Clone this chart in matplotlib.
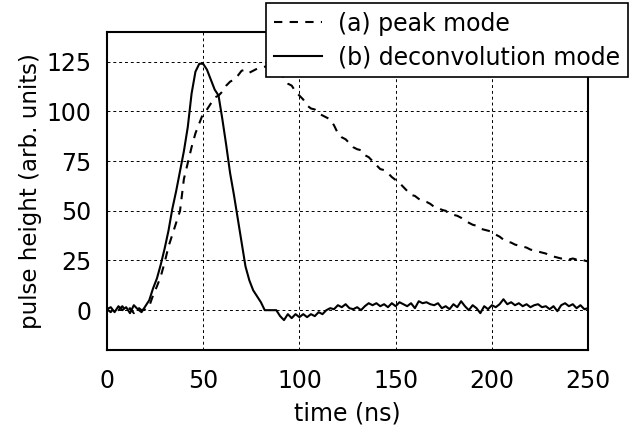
#!/usr/bin/env python3

import numpy as np
import matplotlib
matplotlib.use("Agg")
import matplotlib.pyplot as plt

# time axis (ns), one sample every 2 ns
time_ns = np.arange(0, 252, 2)

# (a) peak mode
peak_mode = [
    0.5, -1, 1.5, 0, 2, -0.5, 1, -1.5, 1.5, 0,
    0.5, 2, 7.5, 12, 17, 24, 32, 38, 44, 50,
    66, 74, 82, 89, 94, 99, 101, 104, 107, 108,
    110, 113, 115, 116, 118, 120.5, 121, 119.5, 120.5, 121.5,
    122, 122.5, 123, 122, 121, 119, 117, 114, 113, 110,
    108, 106, 103, 101.5, 101, 99, 98, 97, 96, 93,
    89, 87, 86, 84, 82, 81, 80.5, 78, 77, 75,
    73, 71, 70.5, 69, 67, 65.5, 64, 62, 60, 58,
    57.5, 56, 55, 54.5, 53.5, 52, 51.5, 50.5, 50, 48.5,
    48, 47.5, 46.5, 45, 44, 43, 42.5, 41, 40.5, 40,
    39.5, 38, 37, 35.5, 34.5, 34, 33, 32.5, 32, 31.5,
    30.5, 30, 29.5, 29, 28.5, 27.5, 27, 26.5, 26, 26.5,
    25.5, 26, 25.5, 26, 25, 24.5,
]

# (b) deconvolution mode
deconv_mode = [
    0.5, 1.5, -1, 2, 0, 1.5, -1.5, 2.5, 0.5, -1,
    2, 5, 11, 16, 23, 31, 40, 51, 60, 70,
    80, 92, 109, 120, 124, 124, 121, 116, 111, 108,
    96, 83, 69, 58, 46, 34, 22, 15, 10, 7,
    4, 0, 0, 0, 0, -3, -5, -2, -4, -2,
    -3.5, -2, -3.5, -2, -3, -1, -2, 0, 1, 0.5,
    2.5, 1.5, 3, 1, 0.5, 1.5, 0, 2, 3.5, 2.5,
    3.5, 2, 3, 1.5, 3.5, 2, 4, 3, 2, 3.5,
    1, 4.5, 3.5, 4, 3, 2.5, 3.5, 1, 2, 0.5,
    3, 1.5, 4.5, 2, 0, 2.5, 1, -1.5, 2, 0.5,
    2.5, 1.5, 3, 5.5, 3, 4, 2.5, 3.5, 2, 3,
    1.5, 2.5, 3, 1.5, 2, 0.5, 2, -0.5, 2.5, 3.5,
    2, 3, 1, 2.5, 0.5, 1,
]

x_ticks = [0, 50, 100, 150, 200, 250]
y_ticks = [0, 25, 50, 75, 100, 125]


def draw():
    plt.rcParams['font.family'] = 'DejaVu Sans'
    plt.rcParams['font.size'] = 17
    fig = plt.figure(figsize=(6.4, 4.32), dpi=100)
    ax = fig.add_axes([0.167, 0.19, 0.752, 0.736])

    ax.plot(time_ns, peak_mode, color='black', linewidth=1.5,
            linestyle=(0, (4, 3.5)), label="(a) peak mode")
    ax.plot(time_ns, deconv_mode, color='black', linewidth=1.5,
            label="(b) deconvolution mode")

    ax.set_xlim(0, 250)
    ax.set_ylim(-20, 140)
    ax.set_xticks(x_ticks)
    ax.set_yticks(y_ticks)
    ax.tick_params(axis='both', length=0, labelsize=17)
    ax.tick_params(axis='x', pad=14)
    ax.tick_params(axis='y', pad=11)
    ax.grid(True, color='black', linestyle=(0, (3, 3)), linewidth=0.7)
    for sp in ax.spines.values():
        sp.set_linewidth(1.5)

    ax.set_xlabel("time (ns)", fontsize=17, labelpad=6)
    ax.set_ylabel("pulse height (arb. units)", fontsize=16.5, labelpad=3)

    leg = ax.legend(loc='upper right', bbox_to_anchor=(0.982, 0.992),
                    bbox_transform=fig.transFigure, fancybox=False,
                    edgecolor='black', framealpha=1, fontsize=17,
                    handlelength=2.0, borderpad=0.35, labelspacing=0.4,
                    handletextpad=0.7, borderaxespad=0)
    leg.get_frame().set_linewidth(1.2)

    fig.savefig('out.png', dpi=100)


if __name__ == "__main__":
    draw()
